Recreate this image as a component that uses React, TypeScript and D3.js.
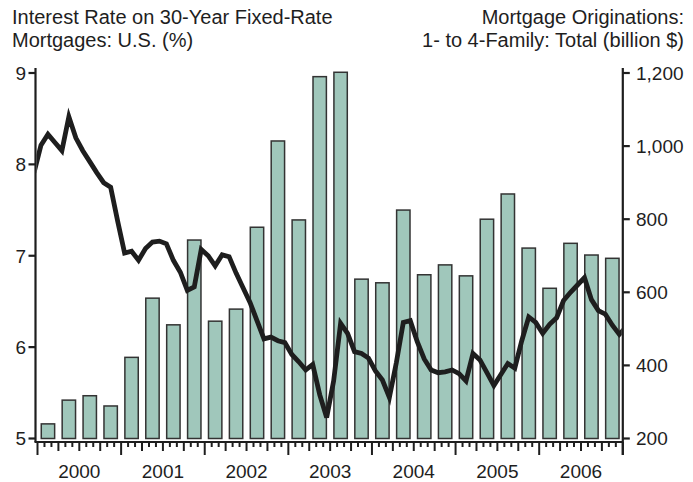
import React from "react";
import * as d3 from "d3";

// quarterly buckets for the bars, monthly points for the line
const years = ["2000", "2001", "2002", "2003", "2004", "2005", "2006"];
const quarters = years.flatMap((y) => ["Q1", "Q2", "Q3", "Q4"].map((q) => `${y} ${q}`));

// Mortgage originations, 1- to 4-family, total (billion $), by quarter
const originations = [
  240, 305, 317, 289,
  422, 584, 511, 743,
  521, 554, 778, 1014,
  798, 1190, 1202, 636,
  626, 825, 648, 675,
  645, 800, 869, 721,
  611, 734, 702, 693,
];

// 30-year fixed mortgage rate (%), monthly, Dec 1999 .. Jan 2007
const rates = [
  7.91,
  8.21, 8.33, 8.24, 8.15, 8.52, 8.29, 8.15, 8.03, 7.91, 7.8, 7.75, 7.38,
  7.03, 7.05, 6.95, 7.08, 7.15, 7.16, 7.13, 6.95, 6.82, 6.62, 6.66, 7.07,
  7.0, 6.89, 7.01, 6.99, 6.81, 6.65, 6.49, 6.29, 6.09, 6.11, 6.07, 6.05,
  5.92, 5.84, 5.75, 5.81, 5.48, 5.23, 5.63, 6.26, 6.15, 5.95, 5.93, 5.88,
  5.74, 5.64, 5.45, 5.83, 6.27, 6.29, 6.06, 5.87, 5.75, 5.72, 5.73, 5.75,
  5.71, 5.63, 5.93, 5.86, 5.72, 5.58, 5.7, 5.82, 5.77, 6.07, 6.33, 6.27,
  6.15, 6.25, 6.32, 6.51, 6.6, 6.68, 6.76, 6.52, 6.4, 6.36, 6.24, 6.14,
  6.22,
];

const rateTicks = [5, 6, 7, 8, 9];
const volumeTicks = [200, 400, 600, 800, 1000, 1200];

const W = 693, H = 482;
const axisL = 35.5, axisR = 622.8, plotTop = 73, plotBottom = 438.5, axisY = 442;
const font = "'Liberation Sans', Arial, sans-serif";
const ink = "#1e1e1e";

export default function App() {
  const nMonths = years.length * 12;
  const x = d3.scaleLinear().domain([0, nMonths]).range([37.5, axisR]);
  const xBand = d3.scaleBand<string>()
    .domain(quarters)
    .range([37.5, axisR])
    .paddingInner(0.36)
    .paddingOuter(0.18);
  const yRate = d3.scaleLinear().domain([5, 9]).range([plotBottom, plotTop]);
  const yVol = d3.scaleLinear().domain([200, 1200]).range([plotBottom, plotTop]);

  const line = d3.line<number>()
    .x((_, i) => x(i - 0.5))
    .y((d) => yRate(d));

  const monthTicks = d3.range(0, nMonths + 1);

  return (
    <svg width={W} height={H} style={{ display: "block", position: "absolute", left: 0, top: 0 }}
      fontFamily={font}>
      <defs>
        <clipPath id="plot">
          <rect x={axisL + 1} y={0} width={axisR - axisL - 2} height={H} />
        </clipPath>
      </defs>

      {/* titles */}
      <text x={12} y={24} fontSize={20} fill={ink}>Interest Rate on 30-Year Fixed-Rate</text>
      <text x={12} y={47} fontSize={20} fill={ink}>Mortgages: U.S. (%)</text>
      <text x={684} y={24} fontSize={20} fill={ink} textAnchor="end">Mortgage Originations:</text>
      <text x={684} y={47} fontSize={20} fill={ink} textAnchor="end">1- to 4-Family: Total (billion $)</text>

      {/* bars */}
      {originations.map((v, i) => (
        <rect key={quarters[i]}
          x={xBand(quarters[i])}
          y={yVol(v)}
          width={xBand.bandwidth()}
          height={yVol(200) - yVol(v)}
          fill="#a0c7bb"
          stroke="#333"
          strokeWidth={1.5} />
      ))}

      {/* rate line */}
      <path d={line(rates) ?? ""} fill="none" stroke={ink} strokeWidth={4.8}
        strokeLinejoin="miter" clipPath="url(#plot)" />

      {/* left axis */}
      <line x1={axisL} x2={axisL} y1={68} y2={axisY} stroke={ink} strokeWidth={2.2} />
      {rateTicks.map((t) => (
        <g key={t}>
          <line x1={axisL - 7} x2={axisL} y1={yRate(t)} y2={yRate(t)} stroke={ink} strokeWidth={2.2} />
          <text x={26} y={yRate(t)} dy="0.36em" fontSize={19} textAnchor="end" fill={ink}>{t}</text>
        </g>
      ))}

      {/* right axis */}
      <line x1={axisR} x2={axisR} y1={68} y2={455} stroke={ink} strokeWidth={2.2} />
      {volumeTicks.map((t) => (
        <g key={t}>
          <line x1={axisR} x2={axisR + 7} y1={yVol(t)} y2={yVol(t)} stroke={ink} strokeWidth={2.2} />
          <text x={636} y={yVol(t)} dy="0.36em" fontSize={19} fill={ink}>{d3.format(",")(t)}</text>
        </g>
      ))}

      {/* bottom axis */}
      <line x1={axisL - 1} x2={axisR} y1={axisY} y2={axisY} stroke={ink} strokeWidth={2.2} />
      {monthTicks.map((m) => {
        const len = m % 12 === 0 ? 13 : m % 3 === 0 ? 9 : 5;
        return (
          <line key={m} x1={x(m)} x2={x(m)} y1={axisY} y2={axisY + len} stroke={ink} strokeWidth={2} />
        );
      })}
      {years.map((y, i) => (
        <text key={y} x={x(i * 12 + 6)} y={478} fontSize={19} textAnchor="middle" fill={ink}>{y}</text>
      ))}
    </svg>
  );
}
